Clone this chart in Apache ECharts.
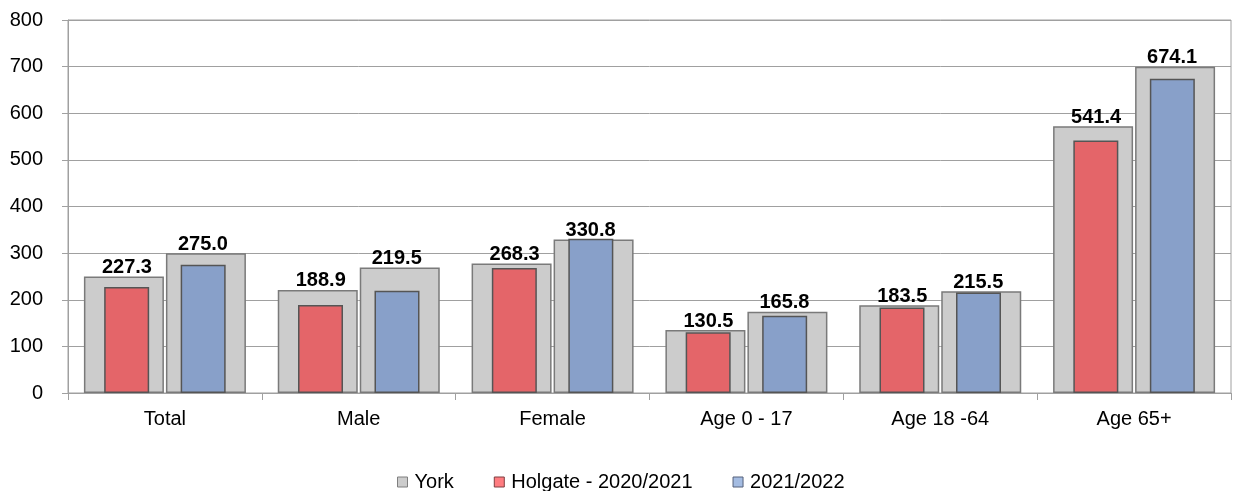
<!DOCTYPE html>
<html>
<head>
<meta charset="utf-8">
<script src="https://cdn.jsdelivr.net/npm/echarts@6/dist/echarts.min.js"></script>
<style>
  html, body { margin: 0; padding: 0; background: #ffffff; }
  #chart { width: 1235px; height: 491px; }
</style>
</head>
<body>
<div id="chart"></div>
<script>
// Rates by group: York backdrop bars with Holgate values in front
const categories = ['Total', 'Male', 'Female', 'Age 0 - 17', 'Age 18 -64', 'Age 65+'];
const york2021 = [250, 221, 278, 135, 188, 572];
const york2122 = [300, 269, 329, 174, 218, 700];
const holgate2021 = [227.3, 188.9, 268.3, 130.5, 183.5, 541.4];
const holgate2122 = [275.0, 219.5, 330.8, 165.8, 215.5, 674.1];
const yTicks = { min: 0, max: 800, interval: 100 };

const FONT = "'Liberation Sans', Arial, sans-serif";
const GRID_COLOR = '#a0a0a0';
const EDGE = '#555555';

const chart = echarts.init(document.getElementById('chart'), null, { renderer: 'canvas' });

function valueLabel(values, dx) {
  return {
    show: true,
    position: 'top',
    distance: 0,
    offset: [dx, 1],
    color: '#000',
    fontFamily: FONT,
    fontWeight: 'bold',
    fontSize: 20,
    formatter: p => values[p.dataIndex].toFixed(1)
  };
}

chart.setOption({
  animation: false,
  backgroundColor: '#ffffff',
  grid: { left: 68, right: 4, top: 20, bottom: 98, show: true, borderColor: GRID_COLOR, borderWidth: 1 },
  legend: {
    left: 392,
    top: 467,
    itemWidth: 10,
    itemHeight: 10,
    itemGap: 40,
    icon: 'rect',
    textStyle: { fontFamily: FONT, fontSize: 20, color: '#000', padding: [0, 0, 0, 2] },
    data: [
      { name: 'York', itemStyle: { color: '#cccccc', borderColor: '#7f7f7f', borderWidth: 1 } },
      { name: 'Holgate - 2020/2021', itemStyle: { color: '#ff7c80', borderColor: '#7f3f40', borderWidth: 1 } },
      { name: '2021/2022', itemStyle: { color: '#a4bce2', borderColor: '#55607a', borderWidth: 1 } }
    ]
  },
  xAxis: [
    {
      type: 'category',
      data: categories,
      axisLine: { show: true, lineStyle: { color: GRID_COLOR, width: 1 } },
      axisTick: { show: true, length: 7, alignWithLabel: false, lineStyle: { color: GRID_COLOR } },
      axisLabel: { fontFamily: FONT, fontSize: 20, color: '#000', margin: 16 }
    },
    {
      type: 'category',
      data: categories,
      position: 'bottom',
      show: false
    }
  ],
  yAxis: {
    type: 'value',
    min: yTicks.min,
    max: yTicks.max,
    interval: yTicks.interval,
    axisLine: { show: true, lineStyle: { color: GRID_COLOR, width: 1 } },
    axisTick: { show: true, length: 6, lineStyle: { color: GRID_COLOR } },
    axisLabel: { fontFamily: FONT, fontSize: 20, color: '#000', margin: 25 },
    splitLine: { show: true, lineStyle: { color: GRID_COLOR, width: 1 } }
  },
  series: [
    {
      name: 'York',
      type: 'bar',
      xAxisIndex: 0,
      data: york2021,
      barWidth: 80,
      barGap: '2.5%',
      itemStyle: { color: '#cccccc', borderColor: '#7a7a7a', borderWidth: 1.5 },
      label: valueLabel(holgate2021, 3)
    },
    {
      name: 'York',
      type: 'bar',
      xAxisIndex: 0,
      data: york2122,
      barWidth: 80,
      barGap: '2.5%',
      itemStyle: { color: '#cccccc', borderColor: '#7a7a7a', borderWidth: 1.5 },
      label: valueLabel(holgate2122, -3)
    },
    {
      name: 'Holgate - 2020/2021',
      type: 'bar',
      xAxisIndex: 1,
      data: holgate2021,
      barWidth: 45,
      barGap: '70%',
      itemStyle: { color: '#e46569', borderColor: EDGE, borderWidth: 1.5 }
    },
    {
      name: '2021/2022',
      type: 'bar',
      xAxisIndex: 1,
      data: holgate2122,
      barWidth: 45,
      barGap: '70%',
      itemStyle: { color: '#88a0c9', borderColor: EDGE, borderWidth: 1.5 }
    }
  ]
});
</script>
</body>
</html>
